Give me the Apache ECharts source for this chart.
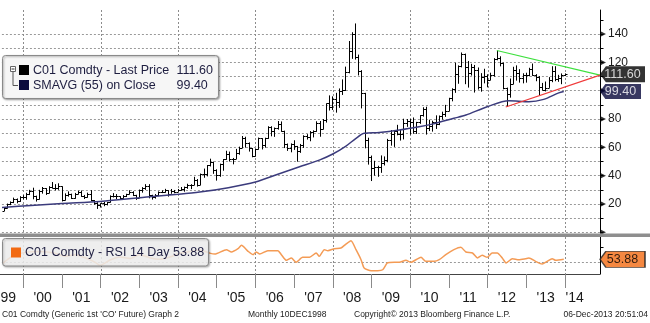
<!DOCTYPE html>
<html><head><meta charset="utf-8">
<script src="https://cdn.jsdelivr.net/npm/echarts@6/dist/echarts.min.js"></script>
<style>html,body{margin:0;padding:0;background:#fff}#c{width:650px;height:323px}</style>
</head><body><div id="c"></div>
<script>
// ---------- DATA ----------
// Monthly bars, first bar = June 1999
const startYear = 1999, startMonth = 6;
const opens = [
15.3,17.0,20.0,21.3,23.5,21.8,24.6,
25.0,27.0,29.4,25.7,23.5,29.2,31.2,28.0,32.0,31.0,31.5,32.5,
22.9,26.5,27.0,24.5,27.0,28.3,25.4,25.2,27.0,22.5,20.4,19.0,
20.4,19.7,21.1,25.6,25.9,25.3,24.1,25.7,27.0,28.4,26.4,24.5,
30.0,31.3,32.7,26.3,24.8,26.1,28.6,28.8,29.6,27.2,29.2,28.8,
30.2,30.4,32.3,33.5,33.3,37.0,33.5,41.4,41.5,47.5,49.8,44.0,
40.5,48.2,51.5,55.0,51.9,51.9,56.3,59.6,66.6,62.9,59.5,53.9,
58.9,66.4,61.5,66.4,74.6,71.2,73.9,76.2,71.3,62.5,59.5,62.6,
60.9,57.3,61.9,68.1,67.6,70.7,71.4,77.1,73.0,79.2,91.0,88.5,
93.9,91.8,100.1,100.3,113.5,127.8,139.8,123.9,114.1,98.2,65.4,53.5,
45.6,45.9,46.4,49.2,50.8,65.4,69.3,71.7,69.5,69.1,77.0,78.5,
77.9,71.2,77.6,82.7,87.4,74.0,75.0,78.0,76.7,82.3,83.2,85.9,
94.8,101.0,111.8,117.4,125.9,116.7,112.5,116.7,114.9,102.8,109.6,110.5,
107.4,110.9,122.7,122.9,119.5,101.9,97.8,104.9,114.6,112.4,108.7,110.9,
111.1,115.6,111.4,110.0,102.4,100.4,102.2,107.7,114.0,108.4,108.8,110.8];
const highs = [
17.5,20.3,21.8,24.5,23.9,25.5,26.2,
27.9,30.0,31.5,25.9,30.0,32.0,31.2,32.6,35.5,34.0,34.6,32.5,
27.5,28.9,27.3,27.8,29.3,29.5,26.4,28.0,29.8,22.8,21.3,20.5,
21.4,21.4,26.1,27.7,27.0,25.5,26.3,27.2,29.7,29.0,26.5,30.2,
31.9,34.0,34.0,26.5,27.0,28.9,29.6,30.7,29.7,30.6,29.9,30.6,
32.0,32.3,34.3,34.0,39.2,37.6,41.5,45.0,47.5,52.0,49.9,44.5,
48.5,51.7,57.6,57.0,52.5,58.9,60.5,68.0,67.5,63.5,59.5,59.2,
66.9,66.5,66.8,74.9,74.9,74.0,78.6,78.3,71.8,62.7,62.8,65.0,
61.0,62.4,68.5,69.3,71.5,72.0,78.4,78.6,80.0,91.0,96.7,96.0,
98.5,101.6,108.0,117.0,135.1,141.3,147.5,125.5,114.5,98.5,66.8,54.2,
50.5,47.0,54.3,53.6,66.0,72.2,71.7,75.9,72.2,80.2,80.0,80.0,
81.1,78.0,82.8,88.3,88.7,79.5,78.8,82.6,82.5,85.2,90.0,95.0,
101.7,119.8,117.9,127.0,126.2,121.0,119.0,118.2,116.4,112.4,115.5,111.6,
112.7,123.0,128.4,124.3,119.9,102.2,108.6,116.9,117.9,115.2,112.3,112.7,
116.2,119.2,111.7,110.3,105.5,106.5,109.6,117.3,117.3,111.2,112.2,112.2];
const lows = [
15.0,16.8,19.2,20.6,20.5,21.5,23.3,
23.0,26.3,23.3,21.7,23.1,27.3,26.4,27.6,31.0,29.6,30.0,21.8,
22.5,25.2,23.5,23.7,26.8,25.0,23.5,24.5,22.0,19.5,16.5,17.5,
18.4,19.0,21.0,24.6,23.5,23.2,23.7,24.9,26.7,25.6,22.9,24.3,
28.0,30.0,24.0,23.1,23.8,25.5,27.7,28.0,25.2,27.2,27.6,28.7,
29.3,28.7,30.7,30.5,33.3,32.3,33.3,38.5,39.5,46.5,41.3,36.5,
39.2,43.5,51.2,50.0,48.0,51.7,54.8,59.5,59.8,57.0,53.0,53.5,
58.4,58.5,59.8,66.0,67.8,67.4,72.5,71.0,59.5,57.5,56.5,58.2,
49.9,56.1,59.6,65.5,64.3,67.0,71.0,67.5,72.7,77.5,86.0,86.4,
84.5,87.9,97.0,99.8,112.3,122.5,122.0,110.8,87.5,59.3,47.8,36.2,
40.0,39.2,42.0,47.2,49.5,61.2,60.3,68.5,64.8,65.6,74.5,69.0,
69.6,69.5,76.6,81.7,69.0,71.5,71.1,73.0,75.7,79.6,81.5,85.5,
92.5,98.5,104.9,116.5,104.6,102.2,110.7,98.7,100.8,99.3,105.2,102.4,
107.4,110.0,121.5,117.2,101.0,88.5,95.1,104.6,107.1,105.7,105.2,105.7,
110.2,110.5,106.7,96.8,100.4,99.5,102.0,106.0,106.7,106.3,104.6,110.4];
const closes = [
17.0,20.0,21.3,23.5,21.8,24.6,25.0,
27.0,29.4,25.7,23.5,29.2,31.2,28.0,32.0,31.0,31.5,32.5,22.9,
26.5,27.0,24.5,27.0,28.3,25.4,25.2,27.0,22.5,20.4,19.0,20.4,
19.7,21.1,25.6,25.9,25.3,24.1,25.7,27.0,28.4,26.4,24.5,30.0,
31.3,32.7,26.3,24.8,26.1,28.6,28.8,29.6,27.2,29.2,28.8,30.2,
30.4,32.3,33.5,33.3,37.0,33.5,41.4,41.5,47.5,49.8,44.0,40.5,
48.2,51.5,55.0,51.9,51.9,56.3,59.6,66.6,62.9,59.5,53.9,58.9,
66.4,61.5,66.4,74.6,71.2,73.9,76.2,71.3,62.5,59.5,62.6,60.9,
57.3,61.9,68.1,67.6,70.7,71.4,77.1,73.0,79.2,91.0,88.5,93.9,
91.8,100.1,100.3,113.5,127.8,139.8,123.9,114.1,98.2,65.4,53.5,45.6,
45.9,46.4,49.2,50.8,65.4,69.3,71.7,69.5,69.1,77.0,78.5,77.9,
71.2,77.6,82.7,87.4,74.0,75.0,78.0,76.7,82.3,83.2,85.9,94.8,
101.0,111.8,117.4,125.9,116.7,112.5,116.7,114.9,102.8,109.6,110.5,107.4,
110.9,122.7,122.9,119.5,101.9,97.8,104.9,114.6,112.4,108.7,110.9,111.1,
115.6,111.4,110.0,102.4,100.4,102.2,107.7,114.0,108.4,108.8,110.8,111.6];

// 55-month simple moving average
const smaYears  = [1999.45,2000.2,2001.0,2001.98,2003.27,2004.0,2004.56,2005.3,2006.0,2006.58,2007.14,2007.65,2008.0,2008.34,2008.6,2008.81,2009.2,2009.72,2010.23,2010.57,2011.13,2011.44,2011.99,2012.55,2013.07,2013.45,2013.84,2013.97];
const smaValues = [17.6,19.0,20.4,21.8,25.1,26.8,28.4,31.5,35.5,41.0,46.3,51.0,55.3,60.9,66.4,69.9,70.5,72.2,74.5,76.4,80.5,82.8,88.7,92.9,92.2,93.9,98.5,99.4];

// RSI 14
const rsiYears = [1999.48,1999.72,2000.05,2000.44,2000.82,2001.08,2001.34,2001.60,2001.86,2001.98,2002.24,2002.50,2002.76,2003.01,2003.27,2003.53,2003.79,2004.05,2004.30,2004.56,2004.82,2004.95,2005.25,2005.38,2005.55,2005.64,2005.81,2005.94,2006.02,2006.11,2006.32,2006.58,2006.67,2006.80,2006.93,2007.05,2007.22,2007.40,2007.57,2007.65,2007.78,2007.87,2008.04,2008.21,2008.34,2008.47,2008.60,2008.73,2008.81,2008.99,2009.16,2009.29,2009.41,2009.59,2009.72,2009.89,2010.02,2010.15,2010.28,2010.40,2010.62,2010.75,2010.92,2011.13,2011.31,2011.44,2011.61,2011.74,2011.86,2011.99,2012.12,2012.25,2012.38,2012.48,2012.64,2012.81,2012.98,2013.07,2013.24,2013.41,2013.54,2013.67,2013.76,2013.97];
const rsiValues = [49,58,63,64,62,58,60,56,50,46,53,57,55,60,56,54,57,62,64,66,62,60.8,66.5,63.5,67.8,72.2,64.4,60,63.5,60.8,65.2,65.2,60,52.6,55.6,50,56.5,56.5,62.2,57.8,66.5,65.2,67.8,68.7,73.9,78.2,66.5,53.4,42.5,39,39,40.3,49.1,50,50,52.6,50,53.4,56.5,51.3,51.3,53.4,60,66.5,69.6,63.5,62.2,55.6,59.2,56.5,62.2,62.2,55.6,49.1,54.7,53.4,54.7,55.6,51.3,47.8,51.3,54.7,52.6,53.88];

// Trend lines drawn on the chart
const resistanceYears = [2012.24, 2014.906], resistanceValues = [128.4, 111.0];
const supportYears    = [2012.47, 2014.906], supportValues    = [88.5, 111.0];

// Axis ticks / labels / grid lines
const priceTickLabels = [20,40,60,80,120,140];
const priceMinorTicks = [0,10,20,30,40,50,60,70,80,90,100,110,120,130,140,150];
const priceArrowTicks = [0,20,40,60,80,100,120,140];
const gridYears = [2000,2002,2004,2006,2008,2010,2012,2014];
const yearTicks = [2000,2001,2002,2003,2004,2005,2006,2007,2008,2009,2010,2011,2012,2013,2014];
const yearLabels  = ["'99","'00","'01","'02","'03","'04","'05","'06","'07","'08","'09","'10","'11","'12","'13","'14"];
const yearLabelAt = [1999.58,2000.5,2001.5,2002.5,2003.5,2004.5,2005.5,2006.5,2007.5,2008.5,2009.5,2010.5,2011.5,2012.5,2013.5,2014.25];
const rsiMidLine = 50;

// ---------- BUILD ----------
const X_MIN = 1998, X_MAX = 2014.906;
const ohlc = closes.map((c, i) => {
  const mIdx = (startMonth - 1) + i;            // months since Jan of startYear
  const x = startYear + (mIdx + 0.9) / 12;      // bar placed near month end
  return [x, opens[i], highs[i], lows[i], c];
});
const sma = smaYears.map((y, i) => [y, smaValues[i]]);
const rsi = rsiYears.map((y, i) => [y, rsiValues[i]]);
const lastClose = closes[closes.length - 1];
const lastSma = smaValues[smaValues.length - 1];
const lastRsi = rsiValues[rsiValues.length - 1];

const FONT = '"Liberation Sans", Arial, sans-serif';
const tagPath = 'path://M0,8L6,0L46,0L46,16L6,16Z';
const dotStyle = {color: '#999999', type: [2, 2], width: 1};

// vertical dotted grid lines, crisp (drawn through the x scale)
const vGridSeries = (xi, yi, yRef) => ({
  type: 'custom', xAxisIndex: xi, yAxisIndex: yi, z: 2, clip: false,
  data: gridYears.map(y => [y, yRef]), encode: {x: 0, y: 1},
  renderItem: (params, api) => {
    const cs = params.coordSys;
    const px = Math.round(api.coord([api.value(0), api.value(1)])[0]) + 0.5;
    return {type: 'line', shape: {x1: px, y1: cs.y, x2: px, y2: cs.y + cs.height},
      style: {stroke: '#8c8c8c', lineWidth: 1, lineDash: [2, 2]}};
  }
});

const chart = echarts.init(document.getElementById('c'), null, {renderer: 'canvas'});
const hiddenX = (g) => ({
  gridIndex: g, type: 'value', min: X_MIN, max: X_MAX,
  axisLine: {show: false, onZero: false}, axisTick: {show: false}, axisLabel: {show: false},
  splitLine: {show: false}
});

chart.setOption({
  animation: false,
  backgroundColor: '#fff',
  grid: [
    {left: -54.1, right: 50, top: 10, height: 222.3, containLabel: false, outerBoundsMode: 'none'},
    {left: -54.1, right: 50, top: 237, height: 37, containLabel: false, outerBoundsMode: 'none'}
  ],
  xAxis: [
    hiddenX(0),
    hiddenX(1),
    {
      gridIndex: 1, type: 'value', min: X_MIN, max: X_MAX, position: 'bottom',
      axisLine: {show: true, onZero: false, lineStyle: {color: '#444', width: 1}},
      axisTick: {show: true, customValues: yearTicks, length: 14, inside: false, lineStyle: {color: '#8a8a8a'}},
      axisLabel: {
        show: true, customValues: yearLabelAt, margin: 17, fontSize: 14, fontFamily: FONT, color: '#1a1a1a',
        formatter: (v) => {
          let best = 0;
          yearLabelAt.forEach((p, i) => { if (Math.abs(p - v) < Math.abs(yearLabelAt[best] - v)) best = i; });
          return yearLabels[best];
        }
      },
      splitLine: {show: false}
    }
  ],
  yAxis: [
    {
      gridIndex: 0, type: 'value', position: 'right', min: 0, max: 157, interval: 20,
      axisLine: {show: true, onZero: false, lineStyle: {color: '#000'}},
      axisTick: {show: true, customValues: priceMinorTicks, length: 3.5, lineStyle: {color: '#000'}},
      axisLabel: {show: true, customValues: priceTickLabels, margin: 8, fontSize: 12, fontFamily: FONT, color: '#1a1a1a'},
      splitLine: {show: true, showMaxLine: false, lineStyle: dotStyle}
    },
    {
      gridIndex: 1, type: 'value', position: 'right', min: 34.7, max: 83.1,
      axisLine: {show: true, onZero: false, lineStyle: {color: '#000'}},
      axisTick: {show: true, customValues: [70], length: 3.5, lineStyle: {color: '#000'}},
      axisLabel: {show: false},
      splitLine: {show: false}
    }
  ],
  series: [
    vGridSeries(0, 0, 0),
    vGridSeries(1, 1, rsiMidLine),
    {
      name: 'Last Price', type: 'custom', xAxisIndex: 0, yAxisIndex: 0, z: 3,
      encode: {x: 0, y: [1, 2, 3, 4]},
      data: ohlc,
      renderItem: (params, api) => {
        const x = api.value(0);
        const hi = api.coord([x, api.value(2)]);
        const lo = api.coord([x, api.value(3)]);
        const op = api.coord([x, api.value(1)]);
        const cl = api.coord([x, api.value(4)]);
        const px = Math.round(hi[0]) + 0.5;
        const oy = Math.round(op[1]) + 0.5, cy = Math.round(cl[1]) + 0.5;
        const st = {stroke: '#000', lineWidth: 1};
        return {type: 'group', children: [
          {type: 'line', shape: {x1: px, y1: hi[1], x2: px, y2: lo[1]}, style: st},
          {type: 'line', shape: {x1: px - 2, y1: oy, x2: px, y2: oy}, style: st},
          {type: 'line', shape: {x1: px, y1: cy, x2: px + 2, y2: cy}, style: st}
        ]};
      }
    },
    {
      name: 'SMAVG (55)', type: 'line', xAxisIndex: 0, yAxisIndex: 0, z: 4,
      data: sma, smooth: 0.3, showSymbol: false, symbol: 'none',
      lineStyle: {color: '#3b3b7c', width: 1.5}
    },
    {
      name: 'resistance', type: 'line', xAxisIndex: 0, yAxisIndex: 0, z: 5,
      data: resistanceYears.map((y, i) => [y, resistanceValues[i]]), symbol: 'none',
      lineStyle: {color: '#3ee03e', width: 1.2}
    },
    {
      name: 'support', type: 'line', xAxisIndex: 0, yAxisIndex: 0, z: 5,
      data: supportYears.map((y, i) => [y, supportValues[i]]), symbol: 'none',
      lineStyle: {color: '#f03a3a', width: 1.2}
    },
    {
      name: 'arrows', type: 'scatter', xAxisIndex: 0, yAxisIndex: 0, z: 6, clip: false, silent: true,
      data: priceArrowTicks.map(v => [X_MAX, v]),
      symbol: 'path://M0,0L6,3L0,6Z', symbolSize: [6, 6], symbolOffset: [3, 0],
      itemStyle: {color: '#000'}
    },
    {
      name: 'tagPrice', type: 'scatter', xAxisIndex: 0, yAxisIndex: 0, z: 10, clip: false, silent: true,
      data: [[X_MAX, lastClose]],
      symbol: tagPath, symbolSize: [45, 16], symbolOffset: [22.5, 0],
      itemStyle: {color: '#000'},
      label: {show: true, position: 'inside', color: '#fff', fontSize: 12.5, fontFamily: FONT,
        formatter: (p) => p.value[1].toFixed(2)}
    },
    {
      name: 'tagSma', type: 'scatter', xAxisIndex: 0, yAxisIndex: 0, z: 9, clip: false, silent: true,
      data: [[X_MAX, lastSma]],
      symbol: tagPath, symbolSize: [41, 15], symbolOffset: [20.5, 0],
      itemStyle: {color: '#06063a'},
      label: {show: true, position: 'inside', color: '#fff', fontSize: 12.5, fontFamily: FONT,
        formatter: (p) => p.value[1].toFixed(2)}
    },
    {
      name: 'RSI', type: 'line', xAxisIndex: 1, yAxisIndex: 1, z: 3,
      data: rsi, smooth: 0.2, showSymbol: false, symbol: 'none',
      lineStyle: {color: '#f49b55', width: 1.5},
      markLine: {silent: true, symbol: 'none', animation: false, label: {show: false}, z: 1,
        lineStyle: dotStyle, data: [{yAxis: rsiMidLine}]}
    },
    {
      name: 'tagRsi', type: 'scatter', xAxisIndex: 1, yAxisIndex: 1, z: 10, clip: false, silent: true,
      data: [[X_MAX, lastRsi]],
      symbol: tagPath, symbolSize: [45, 16], symbolOffset: [22.5, 0],
      itemStyle: {color: '#f26a12', borderColor: '#222', borderWidth: 1},
      label: {show: true, position: 'inside', color: '#000', fontSize: 12.5, fontFamily: FONT,
        formatter: (p) => p.value[1].toFixed(2)}
    }
  ],
  graphic: [
    {type: 'rect', z: 50, silent: true, shape: {x: 0, y: 233.5, width: 650, height: 3.5}, style: {fill: '#8e8e8e'}},
    // price legend
    {type: 'rect', z: 100, silent: true, shape: {x: 2.5, y: 55.5, width: 216, height: 43, r: 3},
      style: {fill: '#f6f6f6', stroke: '#8a8a8a', lineWidth: 1, shadowBlur: 2, shadowOffsetX: 1, shadowOffsetY: 1, shadowColor: 'rgba(0,0,0,0.35)'}},
    {type: 'rect', z: 101, silent: true, shape: {x: 10.5, y: 66.5, width: 5, height: 5}, style: {fill: '#fff', stroke: '#666', lineWidth: 1}},
    {type: 'line', z: 101, silent: true, shape: {x1: 11.5, y1: 69, x2: 14.5, y2: 69}, style: {stroke: '#333', lineWidth: 1}},
    {type: 'polyline', z: 101, silent: true, shape: {points: [[13, 71.5], [13, 85.5], [18, 85.5]]}, style: {stroke: '#555', lineWidth: 1, fill: null}},
    {type: 'rect', z: 101, silent: true, shape: {x: 19, y: 65, width: 10, height: 10}, style: {fill: '#000'}},
    {type: 'rect', z: 101, silent: true, shape: {x: 19, y: 80, width: 10, height: 10}, style: {fill: '#0b0b3d'}},
    {type: 'text', z: 101, silent: true, style: {text: 'C01 Comdty - Last Price', x: 33, y: 71, font: '12.5px ' + FONT, fill: '#1e1e40', verticalAlign: 'middle', align: 'left'}},
    {type: 'text', z: 101, silent: true, style: {text: lastClose.toFixed(2), x: 176.5, y: 71, font: '12.5px ' + FONT, fill: '#1e1e40', verticalAlign: 'middle', align: 'left'}},
    {type: 'text', z: 101, silent: true, style: {text: 'SMAVG (55) on Close', x: 33, y: 85.5, font: '12.5px ' + FONT, fill: '#1e1e40', verticalAlign: 'middle', align: 'left'}},
    {type: 'text', z: 101, silent: true, style: {text: lastSma.toFixed(2), x: 176.5, y: 85.5, font: '12.5px ' + FONT, fill: '#1e1e40', verticalAlign: 'middle', align: 'left'}},
    // RSI legend
    {type: 'rect', z: 100, silent: true, shape: {x: 2.5, y: 238.5, width: 206, height: 27.5, r: 3},
      style: {fill: 'rgba(248,248,248,0.82)', stroke: '#8a8a8a', lineWidth: 1, shadowBlur: 2, shadowOffsetX: 1, shadowOffsetY: 1, shadowColor: 'rgba(0,0,0,0.3)'}},
    {type: 'rect', z: 101, silent: true, shape: {x: 11, y: 247.5, width: 10, height: 10}, style: {fill: '#f26a12'}},
    {type: 'text', z: 101, silent: true, style: {text: 'C01 Comdty - RSI 14 Day ' + lastRsi.toFixed(2), x: 25, y: 253, font: '12.5px ' + FONT, fill: '#1e1e40', verticalAlign: 'middle', align: 'left'}},
    // footer
    {type: 'text', z: 101, silent: true, style: {text: "C01 Comdty (Generic 1st 'CO' Future) Graph 2", x: 2, y: 314.5, font: '8.5px ' + FONT, fill: '#222', verticalAlign: 'middle', align: 'left'}},
    {type: 'text', z: 101, silent: true, style: {text: 'Monthly 10DEC1998', x: 248, y: 314.5, font: '8.5px ' + FONT, fill: '#222', verticalAlign: 'middle', align: 'left'}},
    {type: 'text', z: 101, silent: true, style: {text: 'Copyright\u00A9 2013 Bloomberg Finance L.P.', x: 354, y: 314.5, font: '8.5px ' + FONT, fill: '#222', verticalAlign: 'middle', align: 'left'}},
    {type: 'text', z: 101, silent: true, style: {text: '06-Dec-2013 20:51:04', x: 648, y: 314.5, font: '8.5px ' + FONT, fill: '#222', verticalAlign: 'middle', align: 'right'}}
  ]
});
</script></body></html>
